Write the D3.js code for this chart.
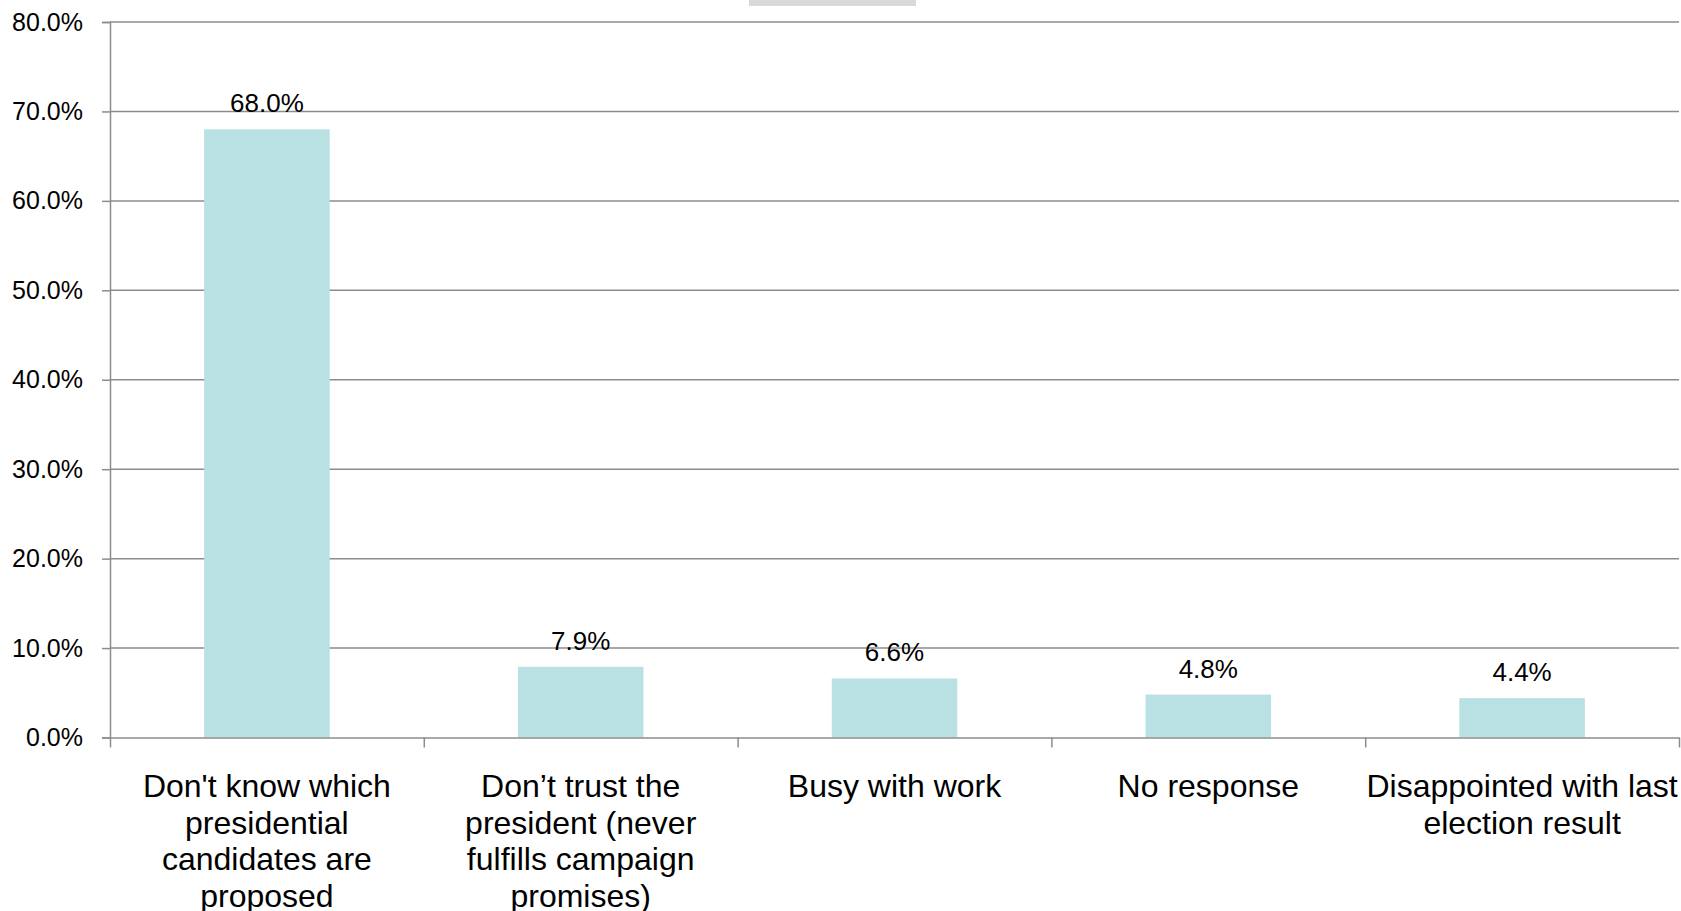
<!DOCTYPE html>
<html>
<head>
<meta charset="utf-8">
<script src="https://cdn.jsdelivr.net/npm/d3@7"></script>
<style>
  html, body { margin: 0; padding: 0; background: #fff; }
  svg { display: block; }
  text { font-family: "Liberation Sans", Arial, Helvetica, sans-serif; fill: #000; }
</style>
</head>
<body>
<svg id="chart" width="1681" height="911"></svg>
<script>
const categories = [
  ["Don't know which", "presidential", "candidates are", "proposed"],
  ["Don\u2019t trust the", "president (never", "fulfills campaign", "promises)"],
  ["Busy with work"],
  ["No response"],
  ["Disappointed with last", "election result"]
];
const values = [0.680, 0.079, 0.066, 0.048, 0.044];
const yTicks = [0, 0.1, 0.2, 0.3, 0.4, 0.5, 0.6, 0.7, 0.8];

(function () {
const svg = d3.select("#chart");
const mLeft = 110, mRight = 1679, mTop = 22, mBottom = 737.5;
const gridColor = "#8c8c8c";

// cut-off title box at the top
svg.append("rect").attr("x", 749).attr("y", 0).attr("width", 167).attr("height", 6).attr("fill", "#d9d9d9");

const idx = categories.map((d, i) => i);
const x = d3.scaleBand().domain(idx).range([mLeft, mRight]).paddingInner(0.6).paddingOuter(0.3);
const xb = d3.scaleLinear().domain([0, categories.length]).range([mLeft, mRight]);
const y = d3.scaleLinear().domain([0, 0.8]).range([mBottom, mTop]);

// gridlines
svg.append("g").selectAll("line").data(yTicks.filter(d => d > 0)).join("line")
  .attr("x1", mLeft).attr("x2", mRight)
  .attr("y1", d => y(d)).attr("y2", d => y(d))
  .attr("stroke", gridColor).attr("stroke-width", 1.5);

// bars
svg.append("g").selectAll("rect").data(values).join("rect")
  .attr("x", (d, i) => x(i)).attr("width", x.bandwidth())
  .attr("y", d => y(d)).attr("height", d => y(0) - y(d))
  .attr("fill", "#b9e0e2");

// y axis
const yAxis = svg.append("g").attr("transform", `translate(${mLeft},0)`)
  .call(d3.axisLeft(y).tickValues(yTicks).tickFormat(d3.format(".1%")).tickSize(8).tickPadding(19));
yAxis.select(".domain").attr("stroke", gridColor).attr("stroke-width", 1.5);
yAxis.selectAll(".tick line").attr("stroke", gridColor).attr("stroke-width", 1.5);
yAxis.selectAll(".tick text").attr("font-size", 25).attr("font-family", "Liberation Sans, Arial, sans-serif").attr("fill", "#000");

// x axis (category boundaries)
const xAxis = svg.append("g").attr("transform", `translate(0,${mBottom})`)
  .call(d3.axisBottom(xb).tickValues(d3.range(categories.length + 1)).tickFormat("").tickSize(10).tickSizeOuter(0));
xAxis.select(".domain").attr("stroke", gridColor).attr("stroke-width", 1.5);
xAxis.selectAll(".tick line").attr("stroke", gridColor).attr("stroke-width", 1.5);

// value labels
svg.append("g").selectAll("text").data(values).join("text")
  .attr("x", (d, i) => x(i) + x.bandwidth() / 2)
  .attr("y", d => y(d) - 17)
  .attr("text-anchor", "middle").attr("font-size", 26)
  .text(d => d3.format(".1%")(d));

// category labels
const cl = svg.append("g").selectAll("text").data(categories).join("text")
  .attr("text-anchor", "middle").attr("font-size", 32)
  .attr("x", (d, i) => x(i) + x.bandwidth() / 2)
  .attr("y", 797);
cl.selectAll("tspan").data(d => d).join("tspan")
  .attr("x", function() { return d3.select(this.parentNode).attr("x"); })
  .attr("dy", (d, j) => j === 0 ? 0 : 36.7)
  .text(d => d);
})();
</script>
</body>
</html>
